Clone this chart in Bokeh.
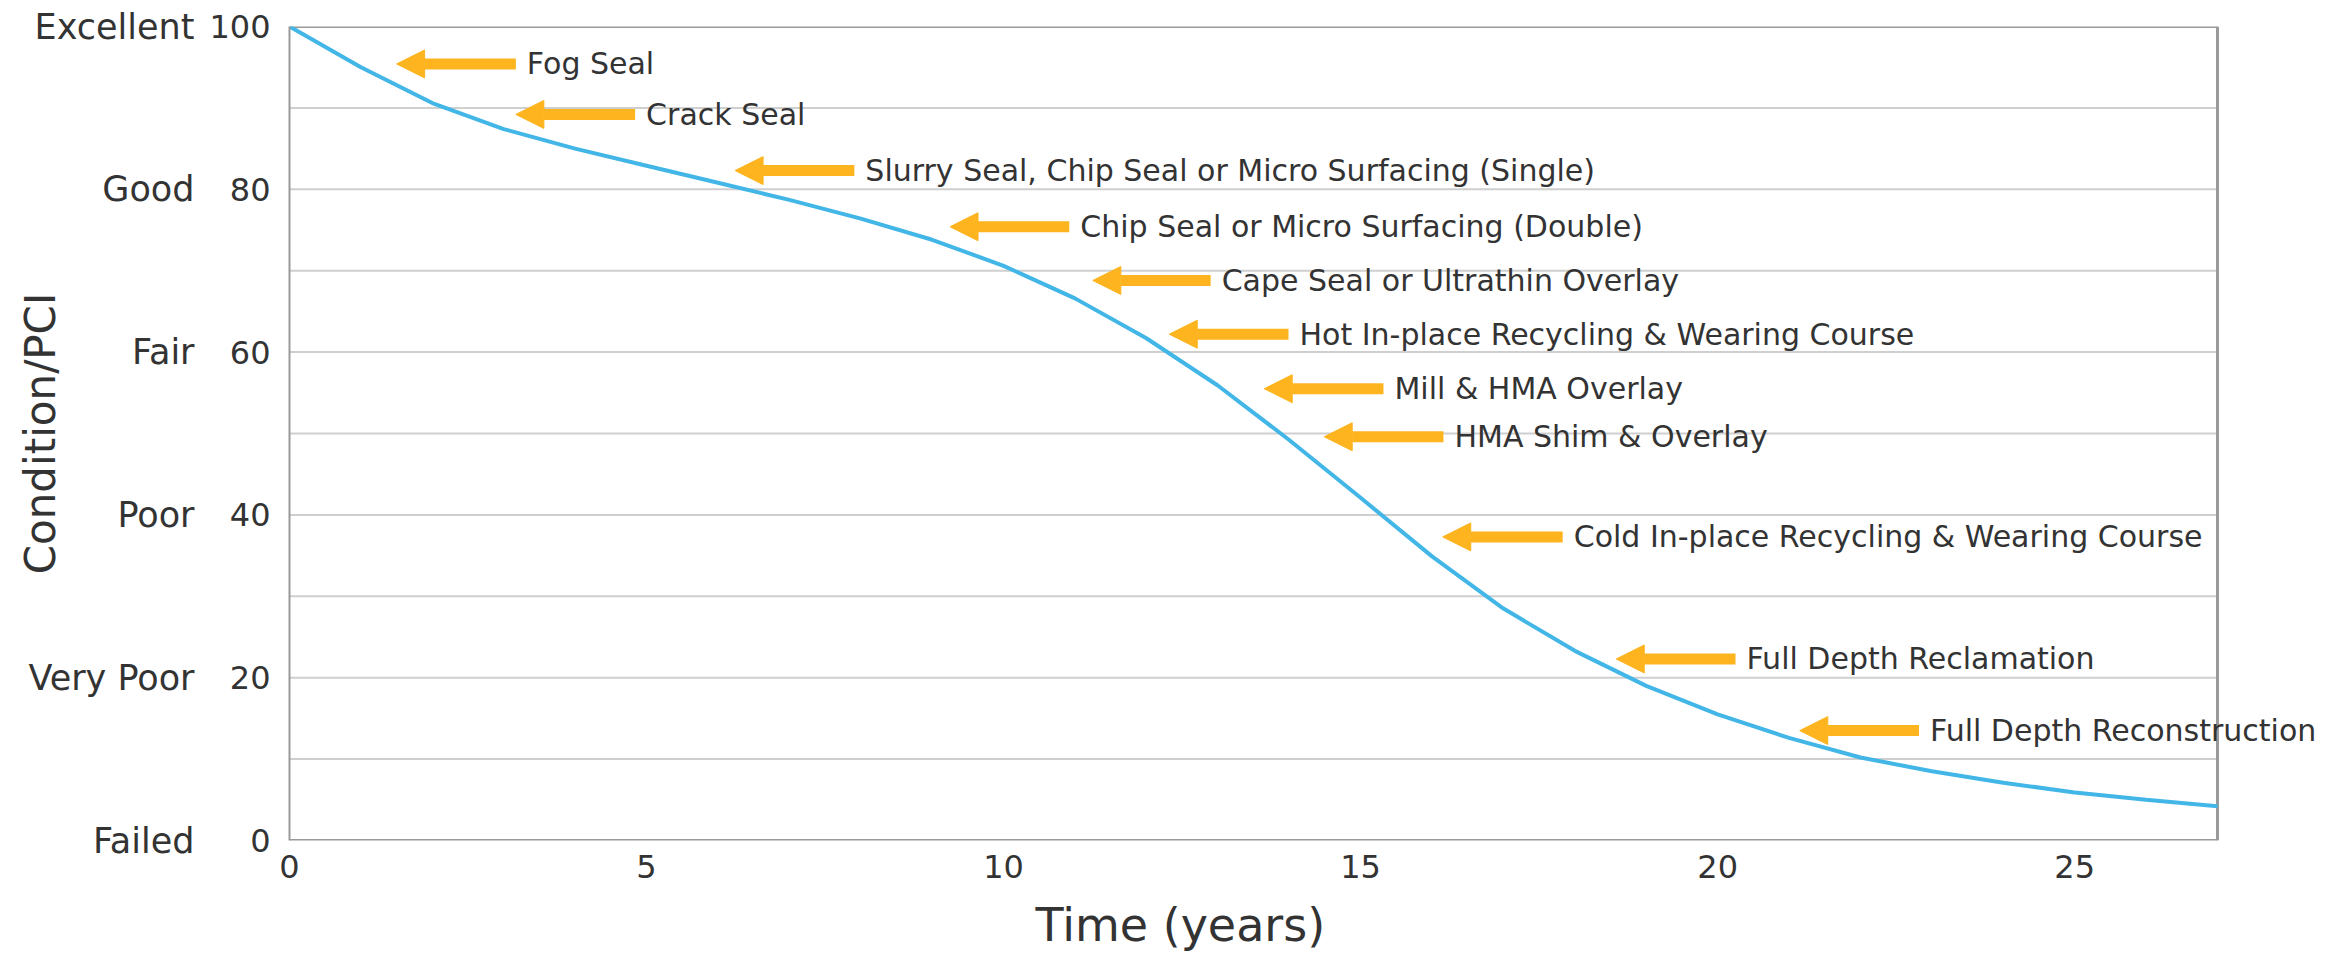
from bokeh.plotting import figure
from bokeh.models import (ColumnDataSource, LinearAxis, FixedTicker, Range1d,
                          Arrow, NormalHead, Label, Title)
from bokeh.embed import file_html
from bokeh.resources import INLINE

# ---- data ----
years = [0, 1, 2, 3, 4, 5, 6, 7, 8, 9, 10, 11, 12, 13, 14, 15, 16, 17, 18, 19,
         20, 21, 22, 23, 24, 25, 26, 27]
pci = [100, 95.0, 90.6, 87.4, 85.0, 82.9, 80.8, 78.7, 76.4, 73.8, 70.6, 66.6,
       61.7, 55.9, 49.2, 42.1, 34.9, 28.5, 23.3, 19.0, 15.5, 12.6, 10.2, 8.5,
       7.1, 5.9, 5.0, 4.2]

treatments = [
    "Fog Seal",
    "Crack Seal",
    "Slurry Seal, Chip Seal or Micro Surfacing (Single)",
    "Chip Seal or Micro Surfacing (Double)",
    "Cape Seal or Ultrathin Overlay",
    "Hot In-place Recycling & Wearing Course",
    "Mill & HMA Overlay",
    "HMA Shim & Overlay",
    "Cold In-place Recycling & Wearing Course",
    "Full Depth Reclamation",
    "Full Depth Reconstruction",
]
arrow_head_x = [1.50, 3.17, 6.24, 9.25, 11.25, 12.32, 13.65, 14.49, 16.15, 18.58, 21.15]
arrow_tail_x = [3.17, 4.84, 7.91, 10.92, 12.90, 13.99, 15.32, 16.16, 17.83, 20.25, 22.82]
arrow_y = [95.4, 89.2, 82.3, 75.4, 68.8, 62.2, 55.5, 49.6, 37.3, 22.3, 13.5]

y_tick_values = [0, 20, 40, 60, 80, 100]
y_tick_names = ["Failed", "Very Poor", "Poor", "Fair", "Good", "Excellent"]
x_tick_values = [0, 5, 10, 15, 20, 25]
grid_values = [10, 20, 30, 40, 50, 60, 70, 80, 90]
x_min, x_max = 0, 27
y_min, y_max = 0, 100

x_title = "Time (years)"
y_title = "Condition/PCI"

FONT = "DejaVu Sans"
TEXT = "#333333"
ORANGE = "#FDB41E"
BLUE = "#42B6E6"
FRAME = "#9a9a9a"
GRID = "#cfcfcf"

# the visible frame ends at x_max; the view extends further right so that the
# long right-hand labels are not clipped (as in the original)
view_right = x_max + 119 / 71.41

p = figure(width=2336, height=966, x_range=Range1d(x_min, view_right),
           y_range=Range1d(y_min, y_max),
           output_backend="svg", toolbar_location=None,
           min_border_left=289, min_border_right=0, min_border_top=26,
           min_border_bottom=124)
p.background_fill_color = "white"
p.border_fill_color = "white"
p.outline_line_color = None
p.xgrid.visible = False
p.ygrid.visible = False

# x axis
xa = p.xaxis[0]
xa.ticker = FixedTicker(ticks=x_tick_values)
xa.axis_line_color = None
xa.major_tick_line_color = None
xa.minor_tick_line_color = None
xa.major_label_standoff = 8
xa.major_label_text_font = FONT
xa.major_label_text_font_size = "32px"
xa.major_label_text_color = TEXT

# inner y axis (numbers)
ya = p.yaxis[0]
ya.ticker = FixedTicker(ticks=y_tick_values)
ya.axis_line_color = FRAME
ya.axis_line_width = 2
ya.major_tick_line_color = None
ya.minor_tick_line_color = None
ya.major_label_standoff = 13
ya.major_label_text_font = FONT
ya.major_label_text_font_size = "32px"
ya.major_label_text_color = TEXT

# outer y axis (condition names) carrying the y title
names_axis = LinearAxis(
    ticker=FixedTicker(ticks=y_tick_values),
    major_label_overrides={v: n for v, n in zip(y_tick_values, y_tick_names)},
    axis_line_color=None, major_tick_line_color=None, minor_tick_line_color=None,
    major_label_standoff=6, major_label_text_font=FONT,
    major_label_text_font_size="35px", major_label_text_color=TEXT,
    axis_label=y_title, axis_label_text_font=FONT,
    axis_label_text_font_size="42px", axis_label_text_font_style="normal",
    axis_label_text_color=TEXT, axis_label_standoff=-40)
p.add_layout(names_axis, "left")

# x title, left of centre as in the original
p.add_layout(Title(text=x_title, align="left", offset=746, standoff=30,
                   text_font=FONT, text_font_size="46px",
                   text_font_style="normal", text_color=TEXT), "below")

# grid lines and frame (frame ends at x_max)
p.segment(x0=x_min, y0=grid_values, x1=x_max, y1=grid_values,
          line_color=GRID, line_width=2)
p.segment(x0=[x_min, x_min, x_max], y0=[y_min, y_max, y_min],
          x1=[x_max, x_max, x_max], y1=[y_min, y_max, y_max],
          line_color=FRAME, line_width=3)

# deterioration curve
curve_src = ColumnDataSource(dict(year=years, pci=pci))
p.line("year", "pci", source=curve_src, line_color=BLUE, line_width=4)

# treatment arrows and labels
ann_src = ColumnDataSource(dict(head=arrow_head_x, tail=arrow_tail_x, y=arrow_y))
p.add_layout(Arrow(x_start="tail", y_start="y", x_end="head", y_end="y",
                   source=ann_src, line_color=ORANGE, line_width=11,
                   end=NormalHead(size=28, fill_color=ORANGE, line_color=ORANGE,
                                  line_width=1)))
for tx, ty, lab in zip(arrow_tail_x, arrow_y, treatments):
    p.add_layout(Label(x=tx, y=ty, text=lab, x_offset=11, text_baseline="middle",
                       text_align="left", text_font=FONT, text_font_size="30px",
                       text_color=TEXT))

open("out.html", "w").write(file_html(p, INLINE))
